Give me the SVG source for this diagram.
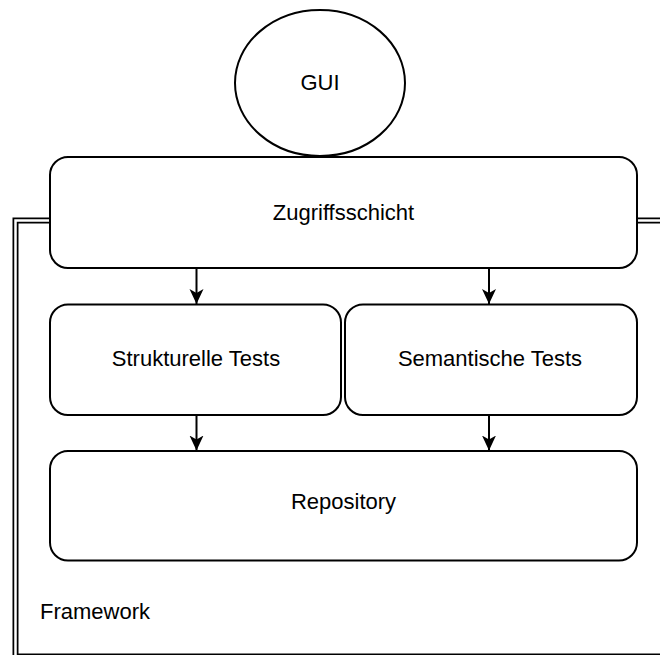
<svg xmlns="http://www.w3.org/2000/svg" width="660" height="655" viewBox="0 0 660 655">
<defs>
<style>
.box{fill:#fff;stroke:#000;stroke-width:2}
.lbl{font-family:"Liberation Sans",Arial,sans-serif;font-size:22px;fill:#000;text-anchor:middle;dominant-baseline:central}
.edge{stroke:#000;stroke-width:2;fill:none}
</style>
<marker id="arr" markerWidth="16" markerHeight="16" viewBox="0 0 16 16" refX="15" refY="8" orient="auto" markerUnits="userSpaceOnUse">
<path d="M0,1 L15,8 L0,15 L4,8 Z" fill="#000"/>
</marker>
</defs>
<rect width="660" height="655" fill="#fff"/>
<g id="framework">
<rect x="15.5" y="220.5" width="700" height="436" fill="none" stroke="#000" stroke-width="6"/>
<rect x="15.5" y="220.5" width="700" height="436" fill="none" stroke="#fff" stroke-width="2.5"/>
<text x="40" y="611" font-family="Liberation Sans, Arial, sans-serif" font-size="22" dominant-baseline="central">Framework</text>
</g>
<g id="gui">
<ellipse cx="320" cy="83" rx="85" ry="73" class="box"/>
<text x="320" y="82" class="lbl">GUI</text>
</g>
<g id="zugriffsschicht">
<rect x="50" y="157" width="587" height="111" rx="18" class="box"/>
<text x="343.5" y="212" class="lbl">Zugriffsschicht</text>
</g>
<g id="strukturelle">
<rect x="50" y="304.5" width="291" height="110.5" rx="18" class="box"/>
<text x="196" y="358" class="lbl">Strukturelle Tests</text>
</g>
<g id="semantische">
<rect x="345" y="304.5" width="292" height="110.5" rx="18" class="box"/>
<text x="490" y="358" class="lbl">Semantische Tests</text>
</g>
<g id="repository">
<rect x="50" y="451" width="587" height="109.5" rx="18" class="box"/>
<text x="343.5" y="501" class="lbl">Repository</text>
</g>
<g id="connectors">
<line x1="196.5" y1="268" x2="196.5" y2="304" class="edge" marker-end="url(#arr)"/>
<line x1="489" y1="268" x2="489" y2="304" class="edge" marker-end="url(#arr)"/>
<line x1="196.5" y1="415" x2="196.5" y2="450.5" class="edge" marker-end="url(#arr)"/>
<line x1="489" y1="415" x2="489" y2="450.5" class="edge" marker-end="url(#arr)"/>
</g>
</svg>
